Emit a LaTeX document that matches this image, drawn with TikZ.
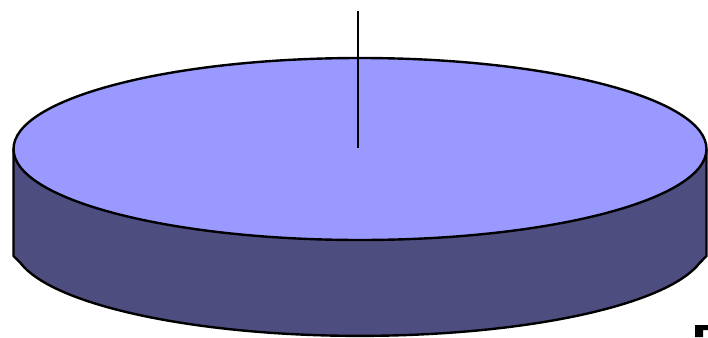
\documentclass[tikz,border=0pt]{standalone}
\usepackage{xcolor}
\usepackage{tikz}
\definecolor{disctop}{HTML}{9999FF}
\definecolor{discside}{HTML}{4D4D80}

\begin{document}
\begin{tikzpicture}[
    x=1pt, y=-1pt,
    outline/.style={draw=black, line width=2.4pt, line join=round},
    rod/.style={draw=black, line width=1.8pt},
]
\useasboundingbox (0,0) rectangle (708,337);

% side wall
\path[outline, fill=discside] (13.5,149) -- (13.5,256) -- (20.5,263)
    arc[start angle=168.5, end angle=11.5, x radius=346.5, y radius=91]
    -- (706.5,256) -- (706.5,149) -- cycle;

% top face
\path[outline, fill=disctop] (360,149) ellipse[x radius=346.5, y radius=91];

% axis
\coordinate (axistop) at (358,11);
\coordinate (axisend) at (358,148);
\draw[rod] (axistop) -- (axisend);

% corner mark
\fill[black] (695,325) -- (708,325) -- (708,330) -- (703,330) -- (703,337) -- (695,337) -- cycle;

\end{tikzpicture}
\end{document}
